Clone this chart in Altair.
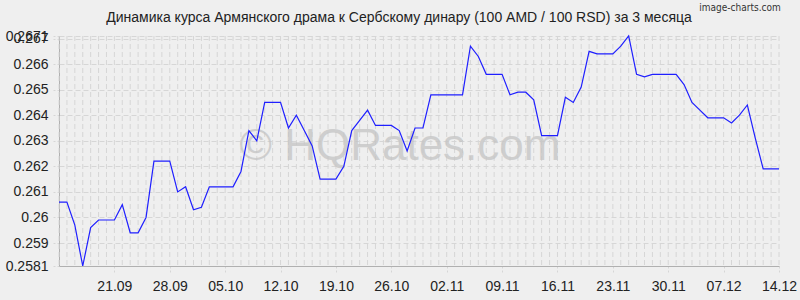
import altair as alt
import pandas as pd

dates = pd.date_range("2023-09-14", "2023-12-14", freq="D").strftime("%Y-%m-%d").tolist()
values = [
    0.2606, 0.2606, 0.2597, 0.2581, 0.2596, 0.2599, 0.2599, 0.2599, 0.2605, 0.2594,
    0.2594, 0.2600, 0.2622, 0.2622, 0.2622, 0.2610, 0.2612, 0.2603,
    0.2604, 0.2612, 0.2612, 0.2612, 0.2612, 0.2618, 0.2634, 0.2630, 0.2645, 0.2645,
    0.2645, 0.2635, 0.2640, 0.2634, 0.2628, 0.2615, 0.2615, 0.2615, 0.2620, 0.2634,
    0.2638, 0.2642, 0.2636, 0.2636, 0.2636, 0.2634, 0.2626, 0.2635, 0.2635, 0.2648,
    0.2648, 0.2648, 0.2648, 0.2648, 0.2667, 0.2663, 0.2656, 0.2656, 0.2656, 0.2648,
    0.2649, 0.2649, 0.2646, 0.2632, 0.2632, 0.2632, 0.2647, 0.2645, 0.2651, 0.2665,
    0.2664, 0.2664, 0.2664, 0.2667, 0.2671, 0.2656, 0.2655, 0.2656, 0.2656, 0.2656,
    0.2656, 0.2652, 0.2645, 0.2642, 0.2639, 0.2639, 0.2639, 0.2637, 0.2640, 0.2644,
    0.2631, 0.2619, 0.2619, 0.2619,
]
tick_dates = ["2023-09-21", "2023-09-28", "2023-10-05", "2023-10-12", "2023-10-19",
              "2023-10-26", "2023-11-02", "2023-11-09", "2023-11-16", "2023-11-23",
              "2023-11-30", "2023-12-07", "2023-12-14"]
y_ticks = [0.2581, 0.259, 0.26, 0.261, 0.262, 0.263, 0.264, 0.265, 0.266, 0.267, 0.2671]
title_text = "Динамика курса Армянского драма к Сербскому динару (100 AMD / 100 RSD) за 3 месяца"
watermark = "© HQRates.com"
credit = "image-charts.com"

df = pd.DataFrame({"date": dates, "rate": values})
tick_ms = [int(pd.Timestamp(d, tz="UTC").value // 10**6) for d in tick_dates]
dom = [int(pd.Timestamp(dates[0], tz="UTC").value // 10**6),
       int(pd.Timestamp(dates[-1], tz="UTC").value // 10**6)]

FONT = "Liberation Sans"

xscale = alt.Scale(type="utc", domain=dom)
yscale = alt.Scale(domain=[y_ticks[0], y_ticks[-1]], zero=False, nice=False)

grid = alt.Chart(df).mark_rule(color="#d6d6d6", strokeDash=[5, 3], strokeWidth=1).encode(
    x=alt.X("date:T", scale=xscale)
)

line = alt.Chart(df).mark_line(color="#1f1fff", strokeWidth=1.2).encode(
    x=alt.X("date:T", scale=xscale,
            axis=alt.Axis(values=tick_ms, labelExpr="utcFormat(datum.value, '%d.%m')",
                          title=None, grid=False, domainColor="#b0b0b0", tickSize=7,
                          tickColor="#d6d6d6", tickDash=[2, 2], labelFont=FONT,
                          labelFontSize=14, labelColor="#222", labelPadding=6,
                          labelOverlap=False, labelBound=False, labelFlush=False)),
    y=alt.Y("rate:Q", scale=yscale,
            axis=alt.Axis(values=y_ticks, labelExpr="'' + datum.value", title=None,
                          grid=True, gridColor="#d6d6d6", gridDash=[5, 3],
                          domainColor="#b0b0b0", tickSize=6, tickColor="#d6d6d6",
                          tickDash=[2, 2], labelFont=FONT, labelFontSize=14,
                          labelColor="#222", labelPadding=5, labelOverlap=False,
                          labelBound=False, labelFlush=False)),
)

wm = alt.Chart(pd.DataFrame({"t": [watermark]})).mark_text(
    font=FONT, fontSize=44, color="#c4c4c4", opacity=0.75, align="center", baseline="middle"
).encode(text="t:N", x=alt.value(341), y=alt.value(111))

cr = alt.Chart(pd.DataFrame({"t": [credit]})).mark_text(
    font="DejaVu Sans Condensed", fontSize=10, color="#333", align="center", baseline="middle"
).encode(text="t:N", x=alt.value(681), y=alt.value(-28))

tt = alt.Chart(pd.DataFrame({"t": [title_text]})).mark_text(
    font=FONT, fontSize=14, color="#222", align="center", baseline="middle"
).encode(text="t:N", x=alt.value(340), y=alt.value(-18))

chart = alt.layer(grid, wm, line, cr, tt).properties(
    width=720, height=230,
    background="#efefef",
    padding={"left": 59, "top": 36, "right": 21, "bottom": 34},
    autosize=alt.AutoSizeParams(type="none"),
).configure_view(stroke=None)

chart.save("out.html", embed_options={"renderer": "svg", "actions": False})
